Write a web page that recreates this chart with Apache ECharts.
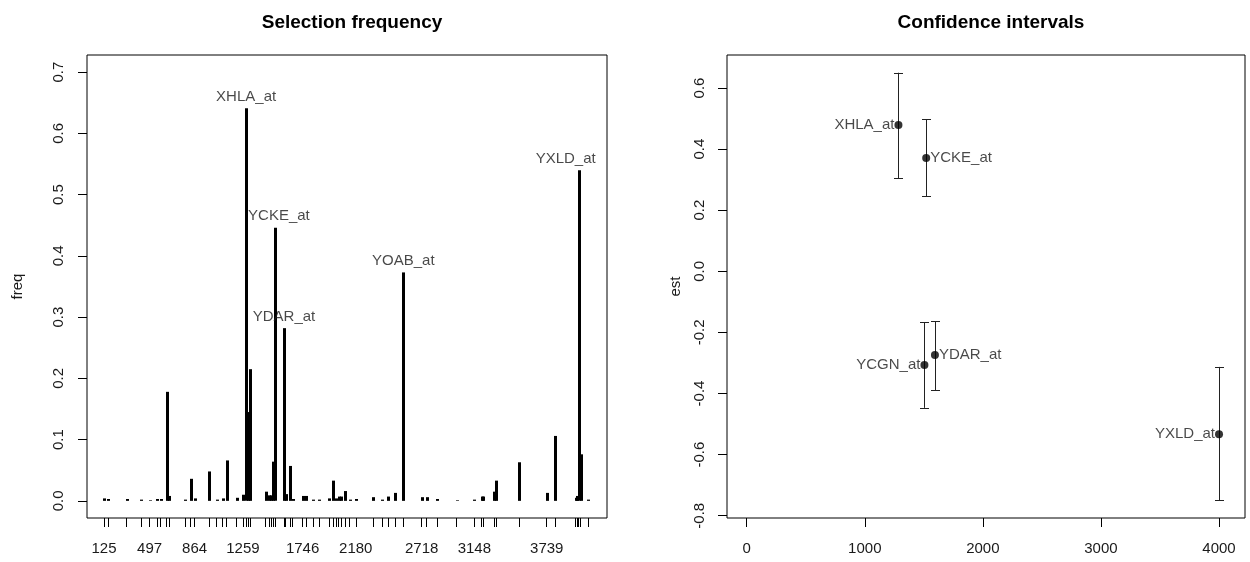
<!DOCTYPE html>
<html>
<head>
<meta charset="utf-8">
<script src="https://cdn.jsdelivr.net/npm/echarts@6/dist/echarts.min.js"></script>
<style>
html,body{margin:0;padding:0;background:#fff;}
#chart{width:1250px;height:562px;}
</style>
</head>
<body>
<div id="chart"></div>
<script>
// ---- data: selection frequency ----
const freqPos = [125,160,310,427,497,560,588,637,655,786,832,864,982,1045,1094,1126,1208,1259,1285,1303,1317,1445,1470,1490,1505,1520,1594,1608,1643,1665,1746,1774,1834,1882,1962,1997,2018,2040,2060,2092,2130,2180,2323,2397,2446,2500,2568,2718,2759,2846,3004,3148,3208,3221,3309,3325,3513,3739,3807,3975,3990,4000,4016,4078];
const freqVal = [0.004,0.003,0.003,0.002,0.001,0.003,0.003,0.178,0.008,0.002,0.036,0.004,0.048,0.002,0.004,0.066,0.005,0.010,0.641,0.145,0.215,0.015,0.009,0.009,0.064,0.446,0.282,0.011,0.057,0.003,0.008,0.008,0.002,0.002,0.004,0.033,0.004,0.007,0.007,0.016,0.002,0.003,0.006,0.002,0.007,0.013,0.373,0.006,0.006,0.003,0.001,0.002,0.007,0.007,0.015,0.033,0.063,0.013,0.106,0.005,0.008,0.540,0.076,0.002];
const freqTickLabels = [125,497,864,1259,1746,2180,2718,3148,3739];
const freqYTicks = [0,0.1,0.2,0.3,0.4,0.5,0.6,0.7];
const freqNames = ['XHLA_at','YCKE_at','YDAR_at','YOAB_at','YXLD_at'];
const freqNamePos = [1285,1520,1594,2568,4000];

// ---- data: confidence intervals ----
const ciNames = ['XHLA_at','YCKE_at','YCGN_at','YDAR_at','YXLD_at'];
const ciPos = [1285,1520,1505,1594,4000];
const ciEst = [0.479,0.371,-0.307,-0.274,-0.533];
const ciLower = [0.305,0.246,-0.447,-0.389,-0.750];
const ciUpper = [0.650,0.498,-0.166,-0.163,-0.313];
const ciXTicks = [0,1000,2000,3000,4000];
const ciYTicks = [-0.8,-0.6,-0.4,-0.2,0,0.2,0.4,0.6];

// ---- build ----
const FONT = "'Liberation Sans', Arial, sans-serif";
const TXT = '#1a1a1a';
const rightSide = new Set(['YCKE_at','YDAR_at']);
const labelShift = {'YXLD_at':[-13,0], 'YCKE_at':[4,0]};
const barData = freqPos.map((p,i)=>[p,freqVal[i]]);
const annData = freqNames.map((n,i)=>{
  const p = freqNamePos[i];
  return {value:[p, freqVal[freqPos.indexOf(p)], n], label:{offset: labelShift[n] || [0,0]}};
});
const ciBarData = ciPos.map((p,i)=>[p,ciLower[i],ciUpper[i]]);
const ciPtData = ciPos.map((p,i)=>({
  value:[p,ciEst[i],ciNames[i]],
  label:{position: rightSide.has(ciNames[i]) ? 'right' : 'left'}
}));

const axisLbl = {color:TXT, fontFamily:FONT, fontSize:15};
const noLine = {show:false, onZero:false};
const chart = echarts.init(document.getElementById('chart'), null, {renderer:'canvas'});
chart.setOption({
  animation:false,
  backgroundColor:'#fff',
  title:[
    {text:'Selection frequency', left:347, top:8, textAlign:'center',
     textStyle:{fontFamily:FONT, fontSize:19, fontWeight:'bold', color:'#000'}},
    {text:'Confidence intervals', left:986, top:8, textAlign:'center',
     textStyle:{fontFamily:FONT, fontSize:19, fontWeight:'bold', color:'#000'}}
  ],
  grid:[
    {left:87, top:55, width:520, height:463, show:true, borderColor:'#000', borderWidth:1, backgroundColor:'transparent', containLabel:false},
    {left:727, top:55, width:518, height:463, show:true, borderColor:'#000', borderWidth:1, backgroundColor:'transparent', containLabel:false}
  ],
  xAxis:[
    {type:'value', gridIndex:0, min:-14, max:4231,
     axisLine:noLine, splitLine:{show:false},
     axisTick:{show:true, inside:false, length:9, customValues:freqPos, lineStyle:{color:'#000', width:1}},
     axisLabel:Object.assign({customValues:freqTickLabels, margin:23, formatter:v=>String(v)}, axisLbl)},
    {type:'value', gridIndex:1, min:-167, max:4220,
     axisLine:noLine, splitLine:{show:false},
     axisTick:{show:true, inside:false, length:9, customValues:ciXTicks, lineStyle:{color:'#000', width:1}},
     axisLabel:Object.assign({customValues:ciXTicks, margin:23, formatter:v=>String(v)}, axisLbl)}
  ],
  yAxis:[
    {type:'value', gridIndex:0, min:-0.028, max:0.728,
     name:'freq', nameLocation:'middle', nameRotate:90, nameGap:62,
     nameTextStyle:{color:TXT, fontFamily:FONT, fontSize:15},
     axisLine:noLine, splitLine:{show:false},
     axisTick:{show:true, inside:false, length:9, customValues:freqYTicks, lineStyle:{color:'#000', width:1}},
     axisLabel:Object.assign({customValues:freqYTicks, rotate:90, margin:21, formatter:v=>v.toFixed(1)}, axisLbl)},
    {type:'value', gridIndex:1, min:-0.8075, max:0.708,
     name:'est', nameLocation:'middle', nameRotate:90, nameGap:44,
     nameTextStyle:{color:TXT, fontFamily:FONT, fontSize:15},
     axisLine:noLine, splitLine:{show:false},
     axisTick:{show:true, inside:false, length:9, customValues:ciYTicks, lineStyle:{color:'#000', width:1}},
     axisLabel:Object.assign({customValues:ciYTicks, rotate:90, margin:20, formatter:v=>v.toFixed(1)}, axisLbl)}
  ],
  series:[
    {type:'custom', xAxisIndex:0, yAxisIndex:0, data:barData, encode:{x:0,y:1},
     renderItem:(params, api)=>{
       const x = api.value(0), y = api.value(1);
       const p0 = api.coord([x,0]), p1 = api.coord([x,y]);
       const px = Math.round(p0[0]) + 0.5;
       return {type:'line', shape:{x1:px,y1:p0[1],x2:px,y2:p1[1]}, style:{stroke:'#000', lineWidth:3, lineCap:'butt'}};
     }},
    {type:'scatter', xAxisIndex:0, yAxisIndex:0, data:annData, symbolSize:0, encode:{x:0,y:1},
     label:{show:true, position:'top', distance:4, formatter:p=>p.value[2], color:TXT, fontFamily:FONT, fontSize:15},
     silent:true},
    {type:'custom', xAxisIndex:1, yAxisIndex:1, data:ciBarData, encode:{x:0,y:[1,2]},
     renderItem:(params, api)=>{
       const x = api.value(0);
       const lo = api.coord([x, api.value(1)]), hi = api.coord([x, api.value(2)]);
       const px = Math.round(lo[0]) + 0.5, w = 4.5;
       const st = {stroke:'#222', lineWidth:1};
       return {type:'group', children:[
         {type:'line', shape:{x1:px,y1:lo[1],x2:px,y2:hi[1]}, style:st},
         {type:'line', shape:{x1:px-w,y1:Math.round(lo[1])+0.5,x2:px+w,y2:Math.round(lo[1])+0.5}, style:st},
         {type:'line', shape:{x1:px-w,y1:Math.round(hi[1])+0.5,x2:px+w,y2:Math.round(hi[1])+0.5}, style:st}
       ]};
     }},
    {type:'scatter', xAxisIndex:1, yAxisIndex:1, data:ciPtData, symbol:'circle', symbolSize:8,
     itemStyle:{color:'#000'}, encode:{x:0,y:1},
     label:{show:true, distance:0, formatter:p=>p.value[2], color:TXT, fontFamily:FONT, fontSize:15}}
  ]
});
</script>
</body>
</html>
